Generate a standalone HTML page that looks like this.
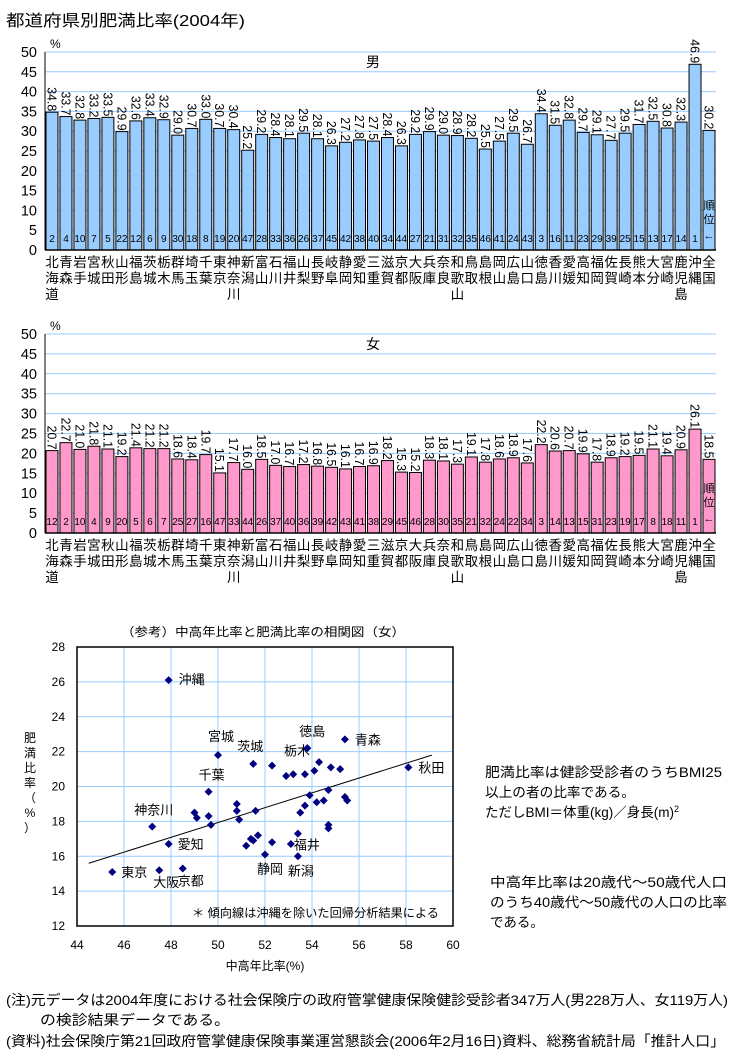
<!DOCTYPE html>
<html><head><meta charset="utf-8">
<style>
html,body{margin:0;padding:0;background:#fff;}
svg{display:block;font-family:"Liberation Sans","Noto Sans CJK JP",sans-serif;}
</style></head>
<body>
<svg id="s" width="735" height="1056" viewBox="0 0 735 1056" xmlns="http://www.w3.org/2000/svg">
<text x="6" y="26" font-size="16" textLength="239" lengthAdjust="spacingAndGlyphs" fill="#000">都道府県別肥満比率(2004年)</text>
<g id="male"></g>
<g id="female"></g>
<g id="scatter"></g>
<text x="485" y="777" font-size="13.5" textLength="237" lengthAdjust="spacingAndGlyphs">肥満比率は健診受診者のうちBMI25</text>
<text x="485" y="797" font-size="13.5" textLength="150" lengthAdjust="spacingAndGlyphs">以上の者の比率である。</text>
<text x="485" y="817" font-size="13.5">ただしBMI＝体重(kg)／身長(m)<tspan font-size="9" dy="-5">2</tspan></text>
<text x="490" y="887" font-size="13.5" textLength="237" lengthAdjust="spacingAndGlyphs">中高年比率は20歳代〜50歳代人口</text>
<text x="490" y="907" font-size="13.5" textLength="237" lengthAdjust="spacingAndGlyphs">のうち40歳代〜50歳代の人口の比率</text>
<text x="490" y="927" font-size="13.5">である。</text>
<text x="6" y="1005" font-size="14" textLength="722" lengthAdjust="spacingAndGlyphs">(注)元データは2004年度における社会保険庁の政府管掌健康保険健診受診者347万人(男228万人、女119万人)</text>
<text x="40" y="1025" font-size="14" textLength="190" lengthAdjust="spacingAndGlyphs">の検診結果データである。</text>
<text x="6" y="1046" font-size="14" textLength="719" lengthAdjust="spacingAndGlyphs">(資料)社会保険庁第21回政府管掌健康保険事業運営懇談会(2006年2月16日)資料、総務省統計局「推計人口」</text>
</svg>
<script>
const categories = ["北海道","青森","岩手","宮城","秋田","山形","福島","茨城","栃木","群馬","埼玉","千葉","東京","神奈川","新潟","富山","石川","福井","山梨","長野","岐阜","静岡","愛知","三重","滋賀","京都","大阪","兵庫","奈良","和歌山","鳥取","島根","岡山","広島","山口","徳島","香川","愛媛","高知","福岡","佐賀","長崎","熊本","大分","宮崎","鹿児島","沖縄","全国"];
const maleValues = [34.8,33.7,32.8,33.2,33.5,29.9,32.6,33.4,32.9,29.0,30.7,33.0,30.7,30.4,25.2,29.2,28.4,28.1,29.5,28.1,26.3,27.2,27.8,27.5,28.4,26.3,29.2,29.9,29.0,28.9,28.2,25.5,27.5,29.5,26.7,34.4,31.5,32.8,29.7,29.1,27.7,29.5,31.7,32.5,30.8,32.3,46.9,30.2];
const maleRanks = [2,4,10,7,5,22,12,6,9,30,18,8,19,20,47,28,33,36,26,37,45,42,38,40,34,44,27,21,31,32,35,46,41,24,43,3,16,11,23,29,39,25,15,13,17,14,1];
const femaleValues = [20.7,22.7,21.0,21.8,21.1,19.2,21.4,21.2,21.2,18.6,18.4,19.7,15.1,17.7,16.0,18.5,17.0,16.7,17.2,16.8,16.5,16.1,16.7,16.9,18.2,15.3,15.2,18.3,18.1,17.3,19.1,17.8,18.6,18.9,17.6,22.2,20.6,20.7,19.9,17.8,18.9,19.2,19.5,21.1,19.4,20.9,26.1,18.5];
const femaleRanks = [12,2,10,4,9,20,5,6,7,25,27,16,47,33,44,26,37,40,36,39,42,43,41,38,29,45,46,28,30,35,21,32,24,22,34,3,14,13,15,31,23,19,17,8,18,11,1];
const barTicks = [0,5,10,15,20,25,30,35,40,45,50];

const scatterX = [47.9,50.0,51.5,52.3,53.8,55.4,58.1,49.6,47.2,47.9,45.5,47.5,48.5,52.0,53.4,53.4,52.9,53.2,53.7,54.1,54.3,54.8,55.2,54.7,53.9,55.4,55.5,54.5,54.2,53.7,53.5,54.7,54.7,50.8,50.8,50.9,49.0,49.1,49.6,49.7,51.6,51.7,51.4,51.5,51.2,52.3,53.1];
const scatterY = [26.1,21.8,21.3,21.2,22.2,22.7,21.1,19.7,17.7,16.7,15.1,15.2,15.3,16.1,16.0,17.3,20.6,20.7,20.7,20.9,21.4,21.1,21.0,19.8,19.5,19.4,19.2,19.2,19.1,18.9,18.5,17.8,17.6,19.0,18.6,18.1,18.5,18.2,18.3,17.8,18.6,17.2,17.0,16.9,16.6,16.8,16.7];
const scatterNames = ["沖縄","宮城","茨城","栃木","徳島","青森","秋田","千葉","神奈川","愛知","東京","大阪","京都","静岡","新潟","福井"];
const trendX = [44.5,59.1];
const trendY = [15.6,21.8];
const xTicks = [44,46,48,50,52,54,56,58,60];
const yTicks = [12,14,16,18,20,22,24,26,28];

const NS = "http://www.w3.org/2000/svg";
function mk(tag, attrs, parent, txt){
  const e = document.createElementNS(NS, tag);
  for (const k in attrs) e.setAttribute(k, attrs[k]);
  if (txt !== undefined) e.textContent = txt;
  parent.appendChild(e);
  return e;
}

function barChart(g, values, ranks, top, bottom, fill, title, rowBase){
  const left = 45, right = 716;
  const y = v => bottom - (v/50)*(bottom-top);
  const step = (right-left)/values.length;
  barTicks.forEach(t => {
    if (t > 0) {
      const l = mk('line',{x1:left,x2:right,y1:y(t),y2:y(t),stroke:'#99ccff','stroke-width':1},g);
      
      
    }
    const tx = mk('text',{x:37,y:y(t)+5,'font-size':14.5,'text-anchor':'end'},g,String(t));
    
    
  });
  const pct = mk('text',{x:50,y:top-4,'font-size':12},g,'%');
  
  
  const tt = mk('text',{x:373,y:top+15,'font-size':14,'text-anchor':'middle'},g,title);
  
  
  values.forEach((v,i) => {
    const x0 = left + i*step + 1;
    const w = step - 2;
    const r = mk('rect',{x:x0,y:y(v),width:w,height:bottom-y(v),fill:fill,stroke:'#000','stroke-width':1},g);
    
    
    const cx = x0 + w/2;
    const vl = mk('text',{x:0,y:0,'font-size':13,'text-anchor':'end',textLength:24,lengthAdjust:'spacingAndGlyphs',transform:`translate(${cx-4.5},${y(v)-1}) rotate(90)`},g,v.toFixed(1));
    
    
    if (i < ranks.length) {
      const rl = mk('text',{x:cx,y:bottom-8,'font-size':10,'text-anchor':'middle'},g,String(ranks[i]));
      
      
    } else {
      const a = mk('text',{x:cx,y:bottom-41,'font-size':11,'text-anchor':'middle'},g,'順');
      
      
      const b = mk('text',{x:cx,y:bottom-27,'font-size':11,'text-anchor':'middle'},g,'位');
      
      
      const c = mk('text',{x:cx,y:bottom-11,'font-size':11,'text-anchor':'middle'},g,'←');
      
      
    }
    [...categories[i]].forEach((ch,k) => {
      const cl = mk('text',{x:cx,y:rowBase+k*16,'font-size':13.5,'text-anchor':'middle'},g,ch);
      
      
    });
  });
  const ax = mk('line',{x1:left,x2:left,y1:top,y2:bottom,stroke:'#000','stroke-width':1},g);
  
  
  const bx = mk('line',{x1:left,x2:right,y1:bottom,y2:bottom,stroke:'#000','stroke-width':1.5},g);
  
  
}
barChart(document.getElementById('male'), maleValues, maleRanks, 52, 250, '#99ccff', '男', 267);
barChart(document.getElementById('female'), femaleValues, femaleRanks, 334, 533, '#ff99cc', '女', 550);

(function(){
  const g = document.getElementById('scatter');
  const L=77, R=453, T=647, B=926;
  const sx = v => L + (v-44)/16*(R-L);
  const sy = v => B - (v-12)/16*(B-T);
  const t = mk('text',{x:121,y:636,'font-size':12,textLength:284,lengthAdjust:'spacingAndGlyphs'},g,'（参考）中高年比率と肥満比率の相関図（女）');
  
  
  xTicks.forEach(v => {
    const l = mk('line',{x1:sx(v),x2:sx(v),y1:T,y2:B,stroke:'#99ccff'},g);
    
    
    const tx = mk('text',{x:sx(v),y:B+23,'font-size':12,'text-anchor':'middle'},g,String(v));
    
    
  });
  yTicks.forEach(v => {
    const l = mk('line',{x1:L,x2:R,y1:sy(v),y2:sy(v),stroke:'#99ccff'},g);
    
    
    const tx = mk('text',{x:L-12,y:sy(v)+4,'font-size':12,'text-anchor':'end'},g,String(v));
    
    
  });
  const fr = mk('rect',{x:L,y:T,width:R-L,height:B-T,fill:'none',stroke:'#000','stroke-width':1.5},g);
  
  
  const tl = mk('line',{x1:sx(trendX[0]),y1:sy(trendY[0]),x2:sx(trendX[1]),y2:sy(trendY[1]),stroke:'#000','stroke-width':1},g);
  
  
  const off = {"沖縄":[10,4],"宮城":[-10,-14],"茨城":[-16,-13],"栃木":[12,-10],"徳島":[-8,-12],"青森":[10,5],"秋田":[10,5],"千葉":[-10,-12],"神奈川":[-18,-12],"愛知":[9,5],"東京":[9,5],"大阪":[-6,17],"京都":[-5,17],"静岡":[-8,19],"新潟":[-10,19],"福井":[-4,16]};
  scatterX.forEach((xv,i) => {
    const px = sx(xv), py = sy(scatterY[i]);
    const d = mk('path',{d:`M${px} ${py-4}L${px+4} ${py}L${px} ${py+4}L${px-4} ${py}Z`,fill:'#000080'},g);
    
    
    if (i < scatterNames.length) {
      const nm = scatterNames[i];
      const o = off[nm] || [8,4];
      const lb = mk('text',{x:px+o[0],y:py+o[1],'font-size':13},g,nm);
      
      
    }
  });
  const n = mk('text',{x:192,y:917,'font-size':12,textLength:247,lengthAdjust:'spacingAndGlyphs'},g,'＊ 傾向線は沖縄を除いた回帰分析結果による');
  
  
  const xl = mk('text',{x:265,y:970,'font-size':12,'text-anchor':'middle'},g,'中高年比率(%)');
  
  
  ['肥','満','比','率','（','%','）'].forEach((c,k) => {
    const yl = mk('text',{x:30,y:742+k*15,'font-size':12,'text-anchor':'middle'},g,c);
    
    
  });
})();
</script>
</body></html>
